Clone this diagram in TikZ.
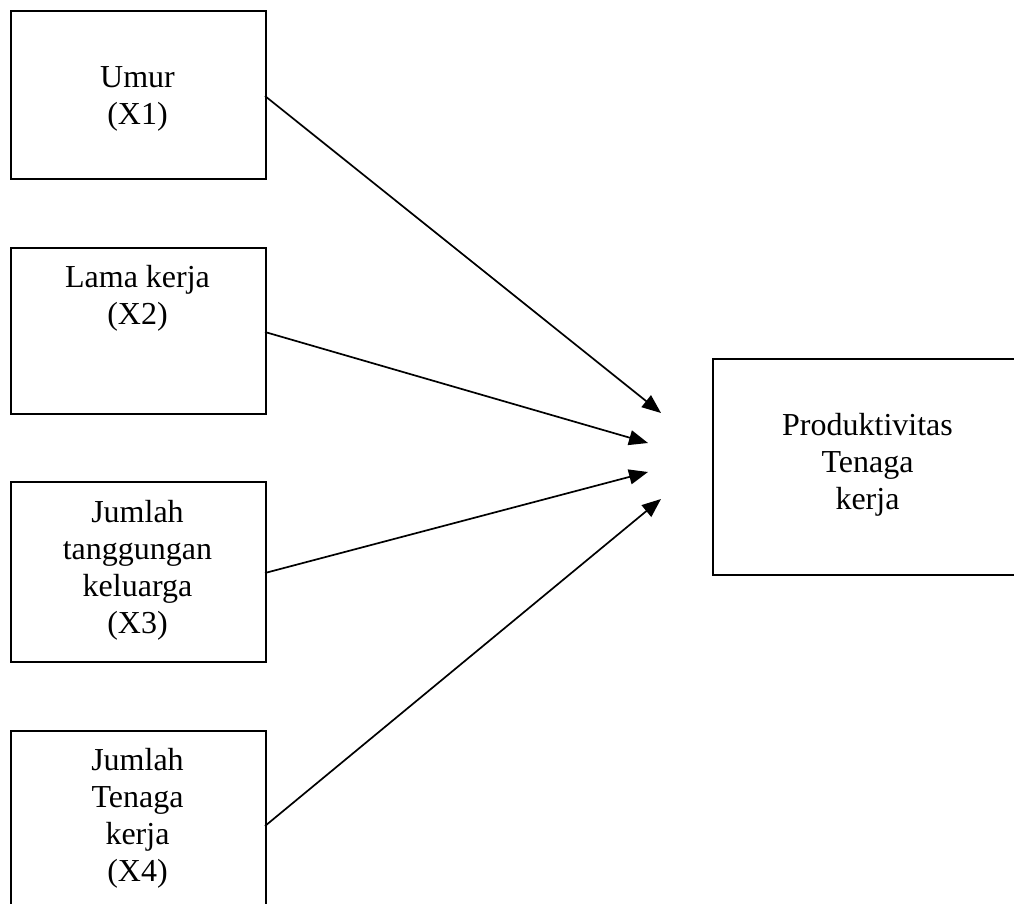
\documentclass[tikz,border=0pt]{standalone}
\usepackage{fontspec}
\setmainfont{Liberation Serif}
\usetikzlibrary{arrows.meta}
\begin{document}
\begin{tikzpicture}[x=1pt,y=-1pt,
  box/.style={draw=black,line width=1.8pt,rectangle,inner sep=0pt,anchor=north west},
  lbl/.style={anchor=north,align=center,inner sep=0pt,font=\fontsize{32}{37}\selectfont},
  arr/.style={line width=1.7pt,-{Triangle[length=19pt,width=15pt]}}]
\useasboundingbox (0,0) rectangle (1014,904);
\node[box,minimum width=255pt,minimum height=168pt] (b1) at (10,10) {};
\node[box,minimum width=255pt,minimum height=166pt] (b2) at (10,247) {};
\node[box,minimum width=255pt,minimum height=180pt] (b3) at (10,481) {};
\node[box,minimum width=255pt,minimum height=180pt] (b4) at (10,730) {};
\node[box,minimum width=310pt,minimum height=216pt] (y) at (712,358) {};
\node[lbl] (t1) at (137.5,66) {Umur\\(X1)};
\node[lbl] (t2) at (137.5,265) {Lama kerja\\(X2)};
\node[lbl] (t3) at (137.5,500) {Jumlah\\tanggungan\\keluarga\\(X3)};
\node[lbl] (t4) at (137.5,748) {Jumlah\\Tenaga\\kerja\\(X4)};
\node[lbl] (ty) at (867.5,413) {Produktivitas\\Tenaga\\kerja};
\coordinate (s1) at (265,96);
\coordinate (s2) at (265,332);
\coordinate (s3) at (265,573);
\coordinate (s4) at (265,826);
\coordinate (e1) at (661,413);
\coordinate (e2) at (648,443);
\coordinate (e3) at (648,472);
\coordinate (e4) at (661,499);
\draw[arr] (s1) -- (e1);
\draw[arr] (s2) -- (e2);
\draw[arr] (s3) -- (e3);
\draw[arr] (s4) -- (e4);
\end{tikzpicture}
\end{document}
